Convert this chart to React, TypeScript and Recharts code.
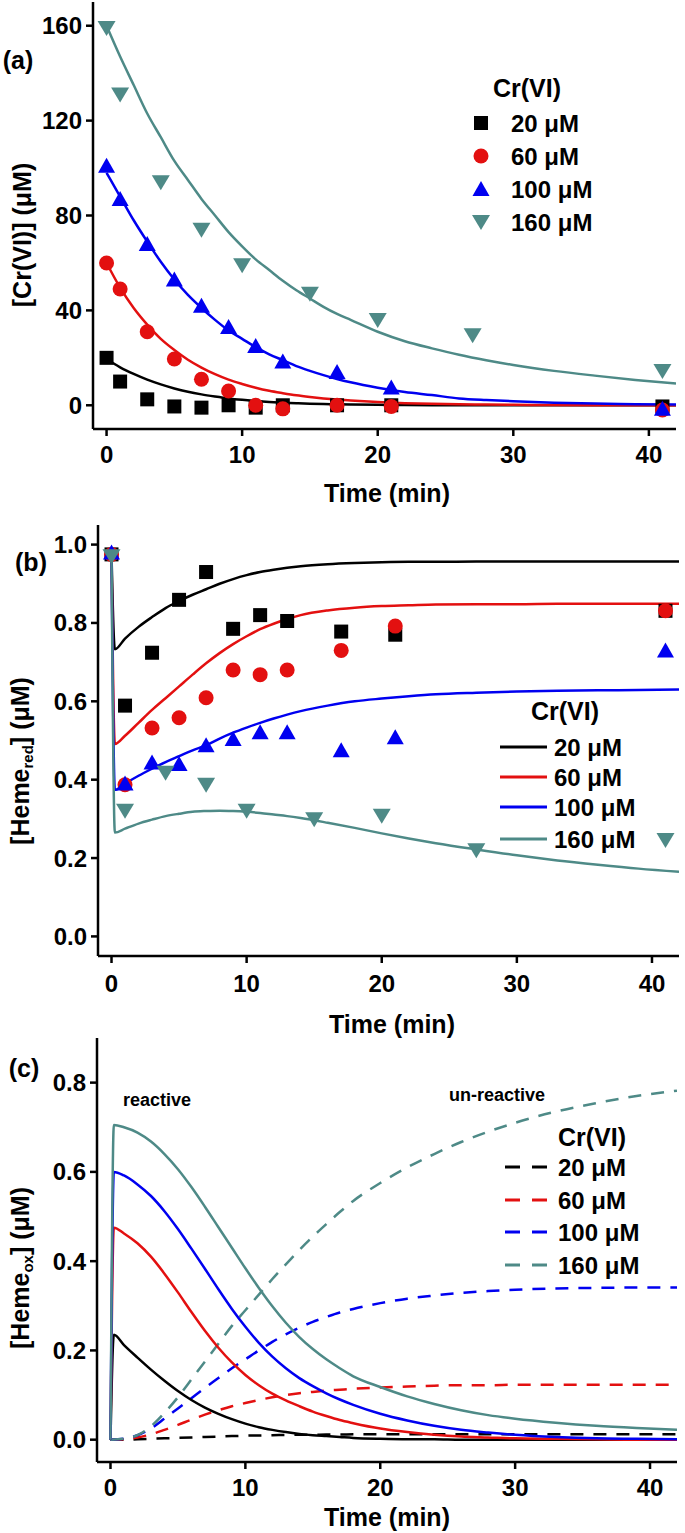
import React from 'react';
import { ComposedChart, Line, Scatter, XAxis, YAxis, Legend } from 'recharts';

const FONT = '"Liberation Sans", Arial, Helvetica, sans-serif';
const BLACK = '#000000';
const RED = '#e31010';
const BLUE = '#0000f0';
const TEAL = '#4e8a87';
const COLORS = [BLACK, RED, BLUE, TEAL];
const legendLabels = ['20 μM', '60 μM', '100 μM', '160 μM'];
const xTicks = [0, 10, 20, 30, 40];

// ---------- Panel (a): [Cr(VI)] ----------
const timesA = [0, 1, 3, 5, 7, 9, 11, 13, 17, 21, 41];
const a20 = [20, 10, 2.5, -0.5, -1, 0, -1, 0, 0, 0, -0.5];
const a60 = [60, 49, 31, 19.5, 11, 6, 0, -1.5, 0, -0.5, -2];
const a100 = [101, 87, 68, 53, 42, 33, 25, 18.5, 14, 7.5, -1.5];
const timesA160 = [0, 1, 4, 7, 10, 15, 20, 27, 41];
const a160 = [159, 131, 94, 74, 59, 47, 36, 29.5, 14.5];
const fitTimeA = [0, 1, 2, 3, 4, 5, 6, 7, 8, 9, 10, 11, 12, 13, 14, 15, 16, 17, 18, 20, 22, 24, 26, 28, 30, 33, 36, 39, 42];
const fitA20 = [19.5, 16, 13.2, 10.8, 8.8, 7.1, 5.7, 4.6, 3.7, 2.9, 2.3, 1.8, 1.4, 1.1, 0.85, 0.65, 0.5, 0.4, 0.3, 0.18, 0.1, 0.06, 0.04, 0.02, 0.01, 0, 0, 0, 0];
const fitA60 = [60, 49.6, 41, 34, 28, 23.3, 19.2, 15.9, 13.1, 10.8, 9, 7.4, 6.1, 5.1, 4.2, 3.5, 2.9, 2.4, 2, 1.35, 0.9, 0.6, 0.4, 0.28, 0.19, 0.1, 0.06, 0.03, 0.02];
const fitA100 = [98, 88, 78, 69, 60.5, 53, 46.5, 41, 36, 31.5, 28, 24.5, 21.5, 19, 16.5, 14.5, 12.7, 11.1, 9.7, 7.4, 5.6, 4.3, 2.9, 2.2, 1.7, 1.1, 0.7, 0.45, 0.3];
const fitA160 = [160, 147, 135, 123, 113, 103, 95, 87, 80, 73, 67, 61.5, 57, 52.5, 48.5, 45, 41.5, 38.5, 36, 31, 27, 24, 21.3, 19, 17, 14.5, 12.5, 10.7, 9.2];
const yTicksA = [0, 40, 80, 120, 160];

// ---------- Panel (b): [Heme_red] ----------
const timesB = [0, 1, 3, 5, 7, 9, 11, 13, 17, 21, 41];
const b20 = [0.975, 0.589, 0.724, 0.859, 0.93, 0.785, 0.82, 0.805, 0.778, 0.77, 0.831];
const b60 = [0.975, 0.387, 0.532, 0.558, 0.609, 0.68, 0.668, 0.68, 0.73, 0.792, 0.831];
const b100 = [0.98, 0.39, 0.444, 0.44, 0.488, 0.504, 0.521, 0.521, 0.475, 0.508, 0.73];
const timesB160 = [0, 1, 4, 7, 10, 15, 20, 27, 41];
const b160 = [0.97, 0.321, 0.418, 0.387, 0.321, 0.299, 0.308, 0.22, 0.246];
const fitTimeB = [0, 0.25, 1, 2, 3, 4, 5, 6, 7, 8, 9, 10, 11, 12, 13, 14, 16, 18, 20, 22, 24, 27, 30, 33, 36, 39, 42];
const fitB20 = [0.975, 0.733, 0.76, 0.79, 0.815, 0.838, 0.856, 0.872, 0.886, 0.9, 0.912, 0.922, 0.93, 0.936, 0.941, 0.945, 0.95, 0.953, 0.955, 0.956, 0.956, 0.957, 0.957, 0.957, 0.957, 0.957, 0.957];
const fitB60 = [0.975, 0.491, 0.512, 0.545, 0.578, 0.608, 0.638, 0.668, 0.697, 0.723, 0.746, 0.766, 0.784, 0.798, 0.81, 0.82, 0.832, 0.839, 0.843, 0.845, 0.847, 0.848, 0.848, 0.849, 0.849, 0.849, 0.849];
const fitB100 = [0.975, 0.374, 0.39, 0.41, 0.428, 0.445, 0.46, 0.475, 0.488, 0.505, 0.52, 0.533, 0.545, 0.556, 0.566, 0.575, 0.589, 0.6, 0.607, 0.613, 0.618, 0.622, 0.625, 0.627, 0.628, 0.629, 0.63];
const fitB160 = [0.97, 0.265, 0.275, 0.288, 0.298, 0.307, 0.313, 0.318, 0.32, 0.321, 0.32, 0.318, 0.315, 0.311, 0.307, 0.302, 0.29, 0.277, 0.263, 0.25, 0.238, 0.222, 0.207, 0.194, 0.183, 0.173, 0.165];
const yTicksB = [0, 0.2, 0.4, 0.6, 0.8, 1.0];

// ---------- Panel (c): [Heme_ox] ----------
const solidTimeC = [0, 0.25, 1, 2, 3, 4, 5, 6, 7, 8, 9, 10, 11, 12, 13, 14, 15, 16, 17, 18, 20, 22, 24, 26, 28, 30, 33, 36, 39, 42];
const c20s = [0, 0.235, 0.212, 0.184, 0.157, 0.132, 0.109, 0.089, 0.072, 0.058, 0.046, 0.036, 0.028, 0.022, 0.017, 0.013, 0.01, 0.008, 0.006, 0.004, 0.002, 0.001, 0.001, 0, 0, 0, 0, 0, 0, 0];
const c60s = [0, 0.475, 0.462, 0.44, 0.41, 0.372, 0.33, 0.286, 0.244, 0.206, 0.173, 0.145, 0.122, 0.103, 0.088, 0.075, 0.063, 0.053, 0.044, 0.037, 0.025, 0.017, 0.011, 0.007, 0.005, 0.003, 0.002, 0.001, 0, 0];
const c100s = [0, 0.6, 0.592, 0.572, 0.546, 0.512, 0.472, 0.428, 0.383, 0.337, 0.293, 0.253, 0.217, 0.186, 0.16, 0.138, 0.12, 0.104, 0.09, 0.078, 0.058, 0.043, 0.031, 0.022, 0.016, 0.011, 0.006, 0.003, 0.002, 0.001];
const c160s = [0, 0.705, 0.7, 0.688, 0.668, 0.64, 0.606, 0.566, 0.522, 0.476, 0.43, 0.384, 0.34, 0.299, 0.262, 0.23, 0.203, 0.18, 0.16, 0.142, 0.118, 0.097, 0.08, 0.066, 0.055, 0.047, 0.038, 0.031, 0.026, 0.022];
const dashTimeC = [0, 1, 2, 3, 4, 5, 6, 7, 8, 9, 10, 11, 12, 13, 14, 15, 16, 17, 18, 20, 22, 24, 26, 28, 30, 33, 36, 39, 42];
const c20d = [0, 0, 0.001, 0.002, 0.003, 0.004, 0.005, 0.006, 0.007, 0.008, 0.009, 0.0095, 0.01, 0.0105, 0.011, 0.011, 0.0115, 0.0115, 0.012, 0.012, 0.012, 0.012, 0.012, 0.012, 0.012, 0.012, 0.012, 0.012, 0.012];
const c60d = [0, 0.001, 0.005, 0.012, 0.022, 0.033, 0.045, 0.056, 0.066, 0.075, 0.082, 0.089, 0.095, 0.1, 0.104, 0.107, 0.11, 0.112, 0.114, 0.117, 0.119, 0.121, 0.122, 0.122, 0.123, 0.123, 0.123, 0.123, 0.123];
const c100d = [0, 0.002, 0.01, 0.025, 0.047, 0.07, 0.093, 0.116, 0.138, 0.16, 0.18, 0.2, 0.219, 0.236, 0.251, 0.264, 0.275, 0.285, 0.293, 0.306, 0.316, 0.323, 0.329, 0.333, 0.336, 0.339, 0.34, 0.341, 0.341];
const c160d = [0, 0.002, 0.01, 0.03, 0.06, 0.095, 0.135, 0.175, 0.215, 0.255, 0.29, 0.325, 0.36, 0.393, 0.425, 0.455, 0.483, 0.51, 0.535, 0.575, 0.61, 0.64, 0.667, 0.69, 0.71, 0.735, 0.754, 0.77, 0.782];
const yTicksC = [0, 0.2, 0.4, 0.6, 0.8];

const toPts = (ts: number[], vs: number[]) => ts.map((t, i) => ({ t, v: vs[i] }));

// ---------- marker shapes ----------
const Square = ({ cx, cy, fill }: any) => <rect x={cx - 7} y={cy - 7} width={14} height={14} fill={fill} />;
const Dot = ({ cx, cy, fill }: any) => <circle cx={cx} cy={cy} r={7.5} fill={fill} />;
const UpTri = ({ cx, cy, fill }: any) => (
  <polygon points={`${cx},${cy - 8} ${cx + 8.5},${cy + 7} ${cx - 8.5},${cy + 7}`} fill={fill} />
);
const DownTri = ({ cx, cy, fill }: any) => (
  <polygon points={`${cx - 9},${cy - 7} ${cx + 9},${cy - 7} ${cx},${cy + 8}`} fill={fill} />
);
const SHAPES = [Square, Dot, UpTri, DownTri];

const TXT: any = { fontFamily: FONT, fontWeight: 700, fill: '#000' };
const tickStyle = { ...TXT, fontSize: 24 };
const axisLine = { stroke: '#000', strokeWidth: 2.5 };
const frameLine = { stroke: '#222', strokeWidth: 1.3 };

const fmt1 = (v: number) => v.toFixed(1);

const frameAxes = (ydom: number[]) => [
  <XAxis key="ft" xAxisId="top" orientation="top" type="number" domain={[-1, 42]} height={0} tick={false} tickLine={false} axisLine={frameLine} allowDataOverflow />,
  <YAxis key="fr" yAxisId="right" orientation="right" type="number" domain={ydom} width={0} tick={false} tickLine={false} axisLine={frameLine} allowDataOverflow />,
];

// ---------- legends ----------
function LegendA() {
  return (
    <svg width={170} height={180} style={{ overflow: 'visible' }}>
      <text x={67} y={23} textAnchor="middle" dominantBaseline="central" fontSize={25} {...TXT}>Cr(VI)</text>
      {legendLabels.map((lab, i) => {
        const y = 58 + 33 * i;
        const Shape = SHAPES[i];
        return (
          <g key={lab}>
            <Shape cx={21} cy={y} fill={COLORS[i]} />
            <text x={51} y={y} dominantBaseline="central" fontSize={24} {...TXT}>{lab}</text>
          </g>
        );
      })}
    </svg>
  );
}

function LegendB() {
  const ys = [57, 87, 117, 149];
  return (
    <svg width={170} height={180} style={{ overflow: 'visible' }}>
      <text x={75} y={21} textAnchor="middle" dominantBaseline="central" fontSize={25} {...TXT}>Cr(VI)</text>
      {legendLabels.map((lab, i) => (
        <g key={lab}>
          <line x1={10} x2={57} y1={ys[i]} y2={ys[i]} stroke={COLORS[i]} strokeWidth={3} />
          <text x={64} y={ys[i]} dominantBaseline="central" fontSize={24} {...TXT}>{lab}</text>
        </g>
      ))}
    </svg>
  );
}

function LegendC() {
  const ys = [50, 83, 115, 148];
  return (
    <svg width={170} height={180} style={{ overflow: 'visible' }}>
      <text x={63} y={20} dominantBaseline="central" fontSize={25} {...TXT}>Cr(VI)</text>
      {legendLabels.map((lab, i) => (
        <g key={lab}>
          <line x1={10} x2={52} y1={ys[i]} y2={ys[i]} stroke={COLORS[i]} strokeWidth={3} strokeDasharray="15 12" />
          <text x={63} y={ys[i]} dominantBaseline="central" fontSize={24} {...TXT}>{lab}</text>
        </g>
      ))}
    </svg>
  );
}

// ---------- axis labels ----------
const yLabelA = () => (
  <g>
    <text x={22} y={235} transform="rotate(-90 22 235)" textAnchor="middle" dominantBaseline="central" fontSize={25} {...TXT}>[Cr(VI)] (μM)</text>
    <text x={18} y={60} textAnchor="middle" dominantBaseline="central" fontSize={25} {...TXT}>(a)</text>
  </g>
);
const yLabelB = () => (
  <g>
    <text x={20} y={256} transform="rotate(-90 20 256)" textAnchor="middle" dominantBaseline="central" fontSize={25} {...TXT}>
      [Heme<tspan fontSize={15} dy={7}>red</tspan><tspan dy={-7}>] (μM)</tspan>
    </text>
    <text x={31} y={57} textAnchor="middle" dominantBaseline="central" fontSize={25} {...TXT}>(b)</text>
  </g>
);
const yLabelC = () => (
  <g>
    <text x={20} y={236} transform="rotate(-90 20 236)" textAnchor="middle" dominantBaseline="central" fontSize={25} {...TXT}>
      [Heme<tspan fontSize={15} dy={7}>ox</tspan><tspan dy={-7}>] (μM)</tspan>
    </text>
    <text x={24} y={36} textAnchor="middle" dominantBaseline="central" fontSize={25} {...TXT}>(c)</text>
    <text x={157} y={68} textAnchor="middle" dominantBaseline="central" fontSize={18} {...TXT}>reactive</text>
    <text x={497} y={63} textAnchor="middle" dominantBaseline="central" fontSize={18} {...TXT}>un-reactive</text>
  </g>
);
const xLabel = (cx: number, cy: number) => () => (
  <text x={cx} y={cy} textAnchor="middle" dominantBaseline="central" fontSize={25} {...TXT}>Time (min)</text>
);

const xAxisProps = (margin: number) => ({
  type: 'number' as const,
  dataKey: 't',
  domain: [-1, 42],
  ticks: xTicks,
  tickSize: 7,
  tickMargin: margin,
  tick: tickStyle,
  axisLine,
  tickLine: axisLine,
  allowDataOverflow: true,
});

export default function App() {
  const markersA = [toPts(timesA, a20), toPts(timesA, a60), toPts(timesA, a100), toPts(timesA160, a160)];
  const fitsA = [fitA20, fitA60, fitA100, fitA160].map((vs) => toPts(fitTimeA, vs));
  const markersB = [toPts(timesB, b20), toPts(timesB, b60), toPts(timesB, b100), toPts(timesB160, b160)];
  const fitsB = [fitB20, fitB60, fitB100, fitB160].map((vs) => toPts(fitTimeB, vs));
  const solidC = [c20s, c60s, c100s, c160s].map((vs) => toPts(solidTimeC, vs));
  const dashC = [c20d, c60d, c100d, c160d].map((vs) => toPts(dashTimeC, vs));

  return (
    <div style={{ position: 'absolute', left: 0, top: 0, width: 685, height: 1533, background: '#fff' }}>
      {/* Panel (a) */}
      <div style={{ position: 'absolute', left: 0, top: 0 }}>
        <ComposedChart width={685} height={525} margin={{ top: 2, right: 9, left: 0, bottom: 0 }}>
          <XAxis {...xAxisProps(10)} height={96} label={xLabel(387, 493)} />
          <YAxis type="number" domain={[-10, 170]} ticks={yTicksA} width={93} tickSize={7} tickMargin={4} tick={tickStyle} axisLine={axisLine} tickLine={axisLine} allowDataOverflow label={yLabelA} />
          {frameAxes([-10, 170])}
          {fitsA.map((d, i) => (
            <Line key={'fa' + i} data={d} dataKey="v" type="monotone" stroke={COLORS[i]} strokeWidth={2.5} dot={false} activeDot={false} isAnimationActive={false} />
          ))}
          {markersA.map((d, i) => {
            const Shape = SHAPES[i];
            return <Scatter key={'ma' + i} data={d} dataKey="v" fill={COLORS[i]} shape={(p: any) => <Shape cx={p.cx} cy={p.cy} fill={COLORS[i]} />} isAnimationActive={false} />;
          })}
          <Legend layout="vertical" align="center" verticalAlign="middle" wrapperStyle={{ left: 460, top: 65, width: 170, height: 180 }} content={() => <LegendA />} />
        </ComposedChart>
      </div>

      {/* Panel (b) */}
      <div style={{ position: 'absolute', left: 0, top: 505 }}>
        <ComposedChart width={685} height={547} margin={{ top: 20, right: 6, left: 0, bottom: 0 }}>
          <XAxis {...xAxisProps(12)} height={96} label={xLabel(392, 519)} />
          <YAxis type="number" domain={[-0.05, 1.05]} ticks={yTicksB} tickFormatter={fmt1} width={98} tickSize={7} tickMargin={4} tick={tickStyle} axisLine={axisLine} tickLine={axisLine} allowDataOverflow label={yLabelB} />
          {frameAxes([-0.05, 1.05])}
          {fitsB.map((d, i) => (
            <Line key={'fb' + i} data={d} dataKey="v" type="monotone" stroke={COLORS[i]} strokeWidth={2.5} dot={false} activeDot={false} isAnimationActive={false} />
          ))}
          {markersB.map((d, i) => {
            const Shape = SHAPES[i];
            return <Scatter key={'mb' + i} data={d} dataKey="v" fill={COLORS[i]} shape={(p: any) => <Shape cx={p.cx} cy={p.cy} fill={COLORS[i]} />} isAnimationActive={false} />;
          })}
          <Legend layout="vertical" align="center" verticalAlign="middle" wrapperStyle={{ left: 490, top: 185, width: 170, height: 180 }} content={() => <LegendB />} />
        </ComposedChart>
      </div>

      {/* Panel (c) */}
      <div style={{ position: 'absolute', left: 0, top: 1032 }}>
        <ComposedChart width={685} height={501} margin={{ top: 6, right: 8, left: 0, bottom: 0 }}>
          <XAxis {...xAxisProps(10)} height={71} label={xLabel(387, 485)} />
          <YAxis type="number" domain={[-0.05, 0.9]} ticks={yTicksC} tickFormatter={fmt1} width={97} tickSize={7} tickMargin={4} tick={tickStyle} axisLine={axisLine} tickLine={axisLine} allowDataOverflow label={yLabelC} />
          {frameAxes([-0.05, 0.9])}
          {dashC.map((d, i) => (
            <Line key={'dc' + i} data={d} dataKey="v" type="monotone" stroke={COLORS[i]} strokeWidth={2.5} strokeDasharray="13 10" dot={false} activeDot={false} isAnimationActive={false} />
          ))}
          {solidC.map((d, i) => (
            <Line key={'sc' + i} data={d} dataKey="v" type="monotone" stroke={COLORS[i]} strokeWidth={2.5} dot={false} activeDot={false} isAnimationActive={false} />
          ))}
          <Legend layout="vertical" align="center" verticalAlign="middle" wrapperStyle={{ left: 495, top: 85, width: 170, height: 180 }} content={() => <LegendC />} />
        </ComposedChart>
      </div>
    </div>
  );
}
